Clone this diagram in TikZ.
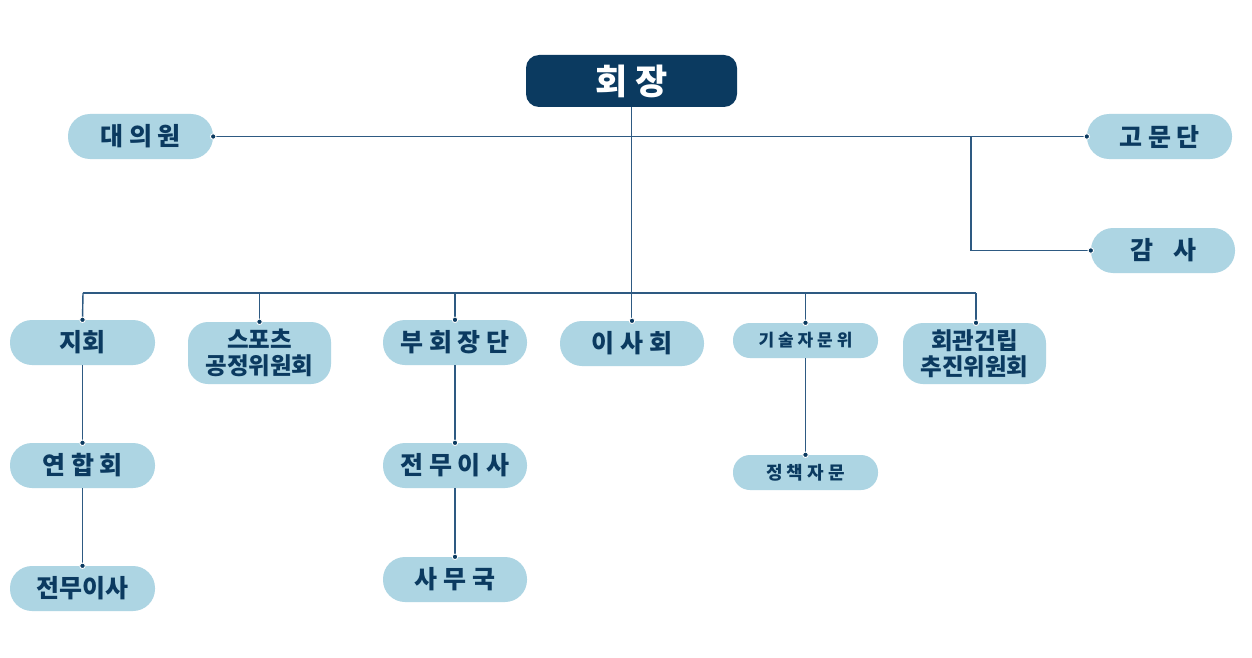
\documentclass[tikz,border=0pt]{standalone}
\usepackage{fontspec}
\setmainfont{Noto Sans CJK KR}
\begin{document}
\begin{tikzpicture}[x=1pt,y=-1pt,
  pill/.style={draw=none,fill=pillfill,text=navy,font=\bfseries\fontsize{25}{27}\selectfont,
    minimum width=145pt,minimum height=45pt,rounded corners=22pt,inner sep=0pt,align=center},
  tall/.style={pill,minimum height=62pt,rounded corners=20pt,font=\bfseries\fontsize{23.5}{26}\selectfont},
  slim/.style={pill,minimum height=35pt,rounded corners=17pt},
  conn/.style={draw=linecol,line width=1.4pt},
  pin/.style={circle,fill=navy,draw=white,line width=0.9pt,inner sep=0pt,minimum size=5.5pt}]
\definecolor{navy}{HTML}{0B3A60}
\definecolor{pillfill}{HTML}{ADD5E3}
\definecolor{linecol}{HTML}{2E5A82}
\useasboundingbox[fill=white] (0,0) rectangle (1252,658);

% nodes
\node[draw=none,fill=navy,text=white,font=\bfseries\fontsize{35}{37}\selectfont,
  minimum width=211pt,minimum height=52pt,rounded corners=13pt,inner sep=0pt] (boss) at (631.5,81) {회 장};
\node[pill] (dae) at (140.5,136.5) {대 의 원};
\node[pill] (gomun) at (1159.5,136.5) {고 문 단};
\node[pill,minimum width=144pt] (gamsa) at (1163,250.5) {감\hspace{0.8em}사};

\node[pill] (jihoe) at (82.5,342.5) {지회};
\node[tall,minimum width=143pt] (sports) at (259.5,353) {스포츠\\공정위원회};
\node[pill,minimum width=144pt] (buhoe) at (455,342.5) {부 회 장 단};
\node[pill,minimum width=144pt] (isa) at (632,343.5) {이 사 회};
\node[slim,font=\bfseries\fontsize{17}{19}\selectfont] (gisul) at (805.5,340.5) {기 술 자 문 위};
\node[tall,minimum width=143pt,minimum height=61pt] (hoegwan) at (974.5,353.5) {회관건립\\추진위원회};

\node[pill] (yeonhap) at (82.5,465.5) {연 합 회};
\node[pill] (jeonmuL) at (82.5,588.5) {전무이사};
\node[pill,minimum width=144pt] (jeonmuM) at (455,465.5) {전 무 이 사};
\node[pill,minimum width=144pt] (samu) at (455,579.5) {사 무 국};
\node[slim,font=\bfseries\fontsize{18}{20}\selectfont] (jeongchaek) at (805.5,472.5) {정 책 자 문};

% coordinates
\coordinate (busL) at (83,293);
\coordinate (busR) at (976,293);
\coordinate (split) at (971,137);

% connectors
\draw[conn] (dae.east) -- (gomun.west);
\draw[conn] (split) |- (gamsa.west);
\draw[conn] (boss.south) -- (boss.south |- isa.north);
\draw[conn] (busL) -- (busR);
\draw[conn] (busL) -- (jihoe.north);
\draw[conn] (sports.north |- busL) -- (sports.north);
\draw[conn] (buhoe.north |- busL) -- (buhoe.north);
\draw[conn] (gisul.north |- busL) -- (gisul.north);
\draw[conn] (busR) -- (busR |- hoegwan.north);
\draw[conn] (jihoe.south) -- (yeonhap.north);
\draw[conn] (yeonhap.south) -- (jeonmuL.north);
\draw[conn] (buhoe.south) -- (jeonmuM.north);
\draw[conn] (jeonmuM.south) -- (samu.north);
\draw[conn] (gisul.south) -- (jeongchaek.north);

% pins
\foreach \p in {dae.east,gomun.west,gamsa.west,jihoe.north,sports.north,buhoe.north,isa.north,
  gisul.north,yeonhap.north,jeonmuL.north,jeonmuM.north,samu.north,jeongchaek.north}
  \node[pin] at (\p) {};
\node[pin] at (busR |- hoegwan.north) {};
\end{tikzpicture}
\end{document}
